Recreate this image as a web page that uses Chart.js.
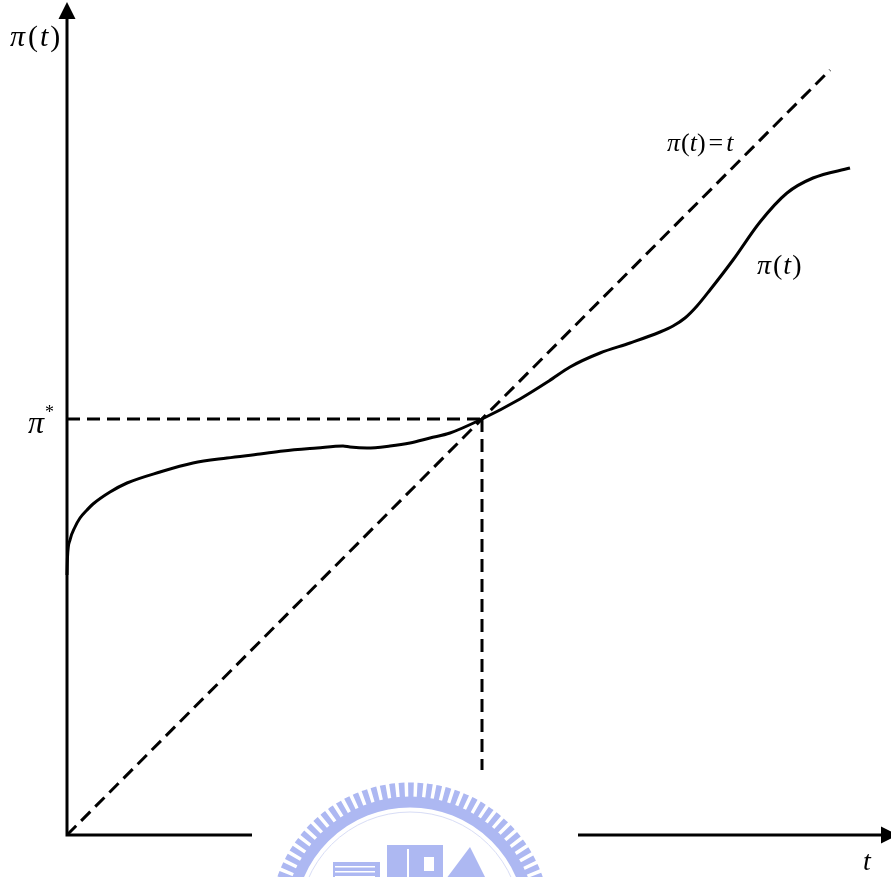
<!DOCTYPE html>
<html>
<head>
<meta charset="utf-8">
<script src="https://cdn.jsdelivr.net/npm/chart.js@4.4.1/dist/chart.umd.min.js"></script>
<style>
html, body { margin: 0; padding: 0; background: #fff; }
canvas { display: block; }
</style>
</head>
<body>
<canvas id="mychart" width="891" height="877"></canvas>
<script>
// pi(t) curve (1 unit ~ 1 px, origin at the axes corner)
const curveT  = [0, 0.5, 3, 8, 13, 20, 26, 43, 60, 93, 126, 160, 193, 216, 250, 276, 283, 300, 323, 343, 363, 383, 415, 453, 482, 503, 533, 563, 593, 606, 618, 630, 643, 666, 693, 720, 746, 783];
const curvePi = [260, 278, 295, 308, 317, 325, 331, 343, 352, 363, 372, 377, 381, 384, 387, 389, 388, 387, 389, 392, 397, 402, 416, 436, 454, 468, 482, 492, 503, 509, 517, 529, 545, 575, 613, 642, 657, 667];

// the line pi(t) = t
const diagT  = [0, 763];
const diagPi = [0, 765];

// fixed point
const tStar = 415;
const piStar = 416;

const xMax = 824;
const yMax = 835;

const toPoints = (xs, ys) => xs.map((x, i) => ({x: x, y: ys[i]}));

const black = '#000';
const dash = [13, 7];

function drawParts(ctx, parts, x, y, size) {
    parts.forEach(p => {
        const s = p.size || size;
        ctx.font = (p.italic ? 'italic ' : '') + s + 'px "Liberation Serif"';
        ctx.fillText(p.s, x, y + (p.dy || 0));
        x += ctx.measureText(p.s).width + (p.gap || 0);
    });
}

const axesPlugin = {
    id: 'axes',
    beforeDatasetsDraw(chart) {
        const ctx = chart.ctx;
        const xs = chart.scales.x, ys = chart.scales.y;
        const x0 = xs.getPixelForValue(0), y0 = ys.getPixelForValue(0);
        const yTop = ys.getPixelForValue(yMax - 2);
        const xEnd = xs.getPixelForValue(xMax + 7);
        ctx.save();
        ctx.strokeStyle = black;
        ctx.fillStyle = black;
        ctx.lineWidth = 3;
        ctx.beginPath();
        ctx.moveTo(x0, y0 + 1.5);
        ctx.lineTo(x0, yTop + 10);
        ctx.moveTo(x0 - 1.5, y0);
        ctx.lineTo(xEnd - 10, y0);
        ctx.stroke();
        // arrow heads
        ctx.beginPath();
        ctx.moveTo(x0, yTop);
        ctx.lineTo(x0 - 8.5, yTop + 17);
        ctx.lineTo(x0 + 8.5, yTop + 17);
        ctx.closePath();
        ctx.fill();
        ctx.beginPath();
        ctx.moveTo(xEnd, y0);
        ctx.lineTo(xEnd - 17, y0 - 8.5);
        ctx.lineTo(xEnd - 17, y0 + 8.5);
        ctx.closePath();
        ctx.fill();
        ctx.restore();
    },
    afterDraw(chart) {
        const ctx = chart.ctx;
        const xs = chart.scales.x, ys = chart.scales.y;
        const px = v => xs.getPixelForValue(v);
        const py = v => ys.getPixelForValue(v);

        // watermark (white patch + faded logo)
        ctx.save();
        ctx.fillStyle = '#fff';
        ctx.fillRect(px(185), py(65), px(511) - px(185), py(-50) - py(65));
        const cx = px(343), cy = py(-88);
        const blue = '#adb8f2';
        ctx.strokeStyle = blue;
        ctx.fillStyle = blue;
        ctx.lineWidth = 15;
        ctx.setLineDash([5.5, 3.5]);
        ctx.beginPath();
        ctx.arc(cx, cy, 133, Math.PI, 2 * Math.PI);
        ctx.stroke();
        ctx.setLineDash([]);
        ctx.lineWidth = 11;
        ctx.beginPath();
        ctx.arc(cx, cy, 121, Math.PI, 2 * Math.PI);
        ctx.stroke();
        ctx.lineWidth = 1;
        ctx.strokeStyle = '#d8ddf6';
        ctx.beginPath();
        ctx.arc(cx, cy, 111, Math.PI, 2 * Math.PI);
        ctx.stroke();
        // building
        ctx.fillRect(cx - 77, cy - 61, 47, 20);
        ctx.fillRect(cx - 23, cy - 78, 56, 40);
        ctx.beginPath();
        ctx.moveTo(cx + 33, cy - 40);
        ctx.lineTo(cx + 60, cy - 76);
        ctx.lineTo(cx + 78, cy - 40);
        ctx.closePath();
        ctx.fill();
        ctx.fillStyle = '#fff';
        for (let k = 0; k < 3; k++) ctx.fillRect(cx - 75, cy - 57 + k * 5, 40, 1.5);
        ctx.fillRect(cx - 3, cy - 74, 2, 30);
        ctx.fillRect(cx + 14, cy - 66, 10, 14);
        ctx.restore();

        // texts
        ctx.save();
        ctx.fillStyle = black;
        ctx.textBaseline = 'alphabetic';
        drawParts(ctx, [
            {s: '\u03c0', italic: true, gap: 3},
            {s: '(', gap: 2},
            {s: 't', italic: true, gap: 2},
            {s: ')'}
        ], px(-57), py(789), 30);
        drawParts(ctx, [
            {s: '\u03c0', italic: true, gap: 1},
            {s: '('},
            {s: 't', italic: true},
            {s: ')', gap: 3},
            {s: '=', gap: 3},
            {s: 't', italic: true}
        ], px(600), py(684), 26);
        drawParts(ctx, [
            {s: '\u03c0', italic: true, gap: 2},
            {s: '(', gap: 1},
            {s: 't', italic: true, gap: 1},
            {s: ')'}
        ], px(690), py(561), 28);
        drawParts(ctx, [
            {s: '\u03c0', italic: true, gap: 1},
            {s: '*', size: 18, dy: -15}
        ], px(-39), py(402), 32);
        drawParts(ctx, [
            {s: 't', italic: true}
        ], px(796), py(-35), 28);
        ctx.restore();
    }
};

const ctx = document.getElementById('mychart');
const myChart = new Chart(ctx, {
    type: 'scatter',
    data: {
        datasets: [{
            label: 'pi(t)',
            data: toPoints(curveT, curvePi),
            showLine: true,
            borderColor: black,
            borderWidth: 3,
            pointRadius: 0,
            cubicInterpolationMode: 'monotone',
            clip: false
        },
        {
            label: 'pi(t)=t',
            data: toPoints(diagT, diagPi),
            showLine: true,
            borderColor: black,
            borderWidth: 3,
            borderDash: dash,
            pointRadius: 0,
            clip: false
        },
        {
            label: 'pi*',
            data: [{x: 0, y: piStar}, {x: tStar, y: piStar}],
            showLine: true,
            borderColor: black,
            borderWidth: 3,
            borderDash: dash,
            pointRadius: 0,
            clip: false
        },
        {
            label: 't*',
            data: [{x: tStar, y: piStar}, {x: tStar, y: 0}],
            showLine: true,
            borderColor: black,
            borderWidth: 3,
            borderDash: dash,
            pointRadius: 0,
            clip: false
        }]
    },
    options: {
        responsive: false,
        animation: false,
        layout: {
            padding: {left: 67, right: 0, top: 0, bottom: 42}
        },
        scales: {
            x: { type: 'linear', min: 0, max: xMax, display: false },
            y: { type: 'linear', min: 0, max: yMax, display: false }
        },
        plugins: {
            legend: { display: false },
            tooltip: { enabled: false }
        }
    },
    plugins: [axesPlugin]
});
</script>
</body>
</html>
